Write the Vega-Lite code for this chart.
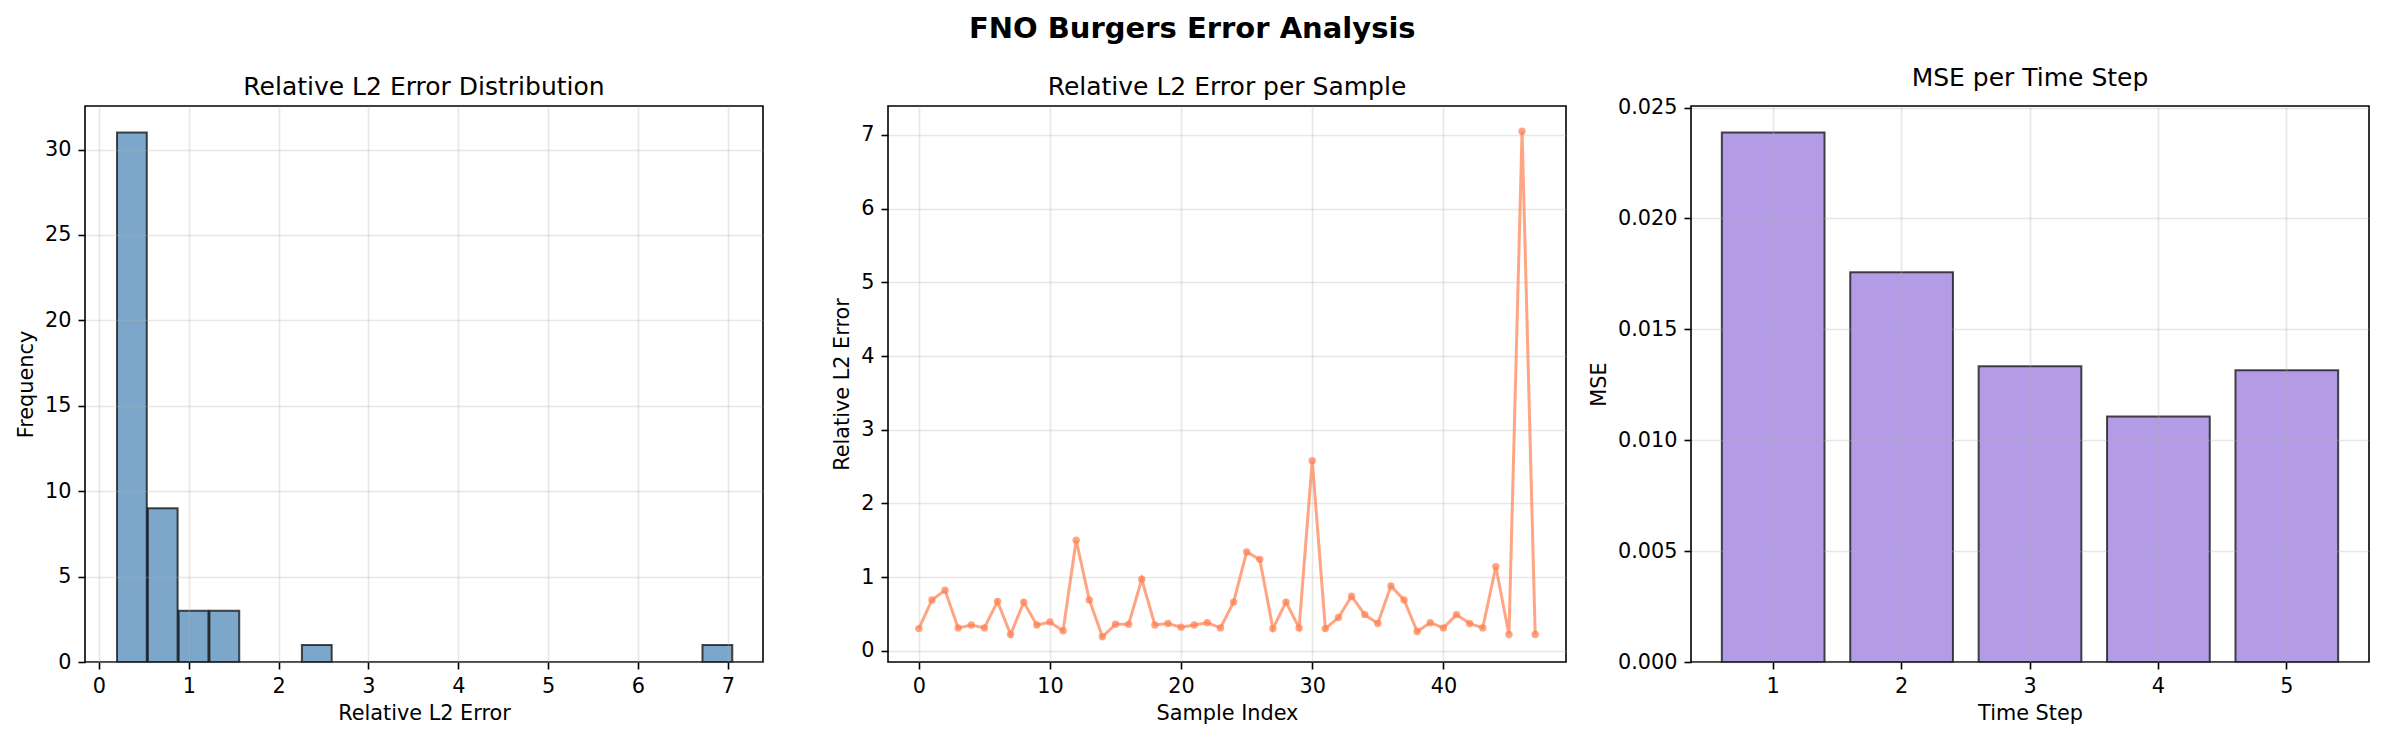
{
  "$schema": "https://vega.github.io/schema/vega-lite/v6.json",
  "padding": {"left": 14, "top": 14, "right": 5, "bottom": 5},
  "background": "white",
  "title": {"text": "FNO Burgers Error Analysis", "fontSize": 29, "fontWeight": "bold", "anchor": "middle", "offset": 21, "font": "DejaVu Sans", "color": "black"},
  "datasets": {
    "samples": [
      {"idx": 0, "err": 0.30}, {"idx": 1, "err": 0.69}, {"idx": 2, "err": 0.82}, {"idx": 3, "err": 0.31},
      {"idx": 4, "err": 0.35}, {"idx": 5, "err": 0.31}, {"idx": 6, "err": 0.67}, {"idx": 7, "err": 0.22},
      {"idx": 8, "err": 0.66}, {"idx": 9, "err": 0.35}, {"idx": 10, "err": 0.39}, {"idx": 11, "err": 0.27},
      {"idx": 12, "err": 1.50}, {"idx": 13, "err": 0.69}, {"idx": 14, "err": 0.19}, {"idx": 15, "err": 0.36},
      {"idx": 16, "err": 0.36}, {"idx": 17, "err": 0.97}, {"idx": 18, "err": 0.35}, {"idx": 19, "err": 0.37},
      {"idx": 20, "err": 0.32}, {"idx": 21, "err": 0.35}, {"idx": 22, "err": 0.38}, {"idx": 23, "err": 0.31},
      {"idx": 24, "err": 0.66}, {"idx": 25, "err": 1.34}, {"idx": 26, "err": 1.24}, {"idx": 27, "err": 0.30},
      {"idx": 28, "err": 0.66}, {"idx": 29, "err": 0.31}, {"idx": 30, "err": 2.58}, {"idx": 31, "err": 0.30},
      {"idx": 32, "err": 0.45}, {"idx": 33, "err": 0.74}, {"idx": 34, "err": 0.49}, {"idx": 35, "err": 0.37},
      {"idx": 36, "err": 0.88}, {"idx": 37, "err": 0.69}, {"idx": 38, "err": 0.26}, {"idx": 39, "err": 0.38},
      {"idx": 40, "err": 0.31}, {"idx": 41, "err": 0.49}, {"idx": 42, "err": 0.37}, {"idx": 43, "err": 0.31},
      {"idx": 44, "err": 1.14}, {"idx": 45, "err": 0.22}, {"idx": 46, "err": 7.05}, {"idx": 47, "err": 0.22}
    ],
    "mse": [
      {"step": 1, "mse": 0.02388}, {"step": 2, "mse": 0.01757}, {"step": 3, "mse": 0.01333},
      {"step": 4, "mse": 0.01107}, {"step": 5, "mse": 0.01316}
    ]
  },
  "hconcat": [
    {
      "title": "Relative L2 Error Distribution",
      "width": 678, "height": 556,
      "data": {"name": "samples"},
      "mark": {"type": "bar", "fill": "steelblue", "fillOpacity": 0.7, "stroke": "black", "strokeOpacity": 0.7, "strokeWidth": 2},
      "encoding": {
        "x": {"field": "err", "type": "quantitative", "bin": {"extent": [0.19, 7.05], "step": 0.343, "nice": false},
              "scale": {"domain": [-0.155, 7.392], "nice": false, "zero": false},
              "axis": {"title": "Relative L2 Error", "values": [0, 1, 2, 3, 4, 5, 6, 7], "format": "d", "zindex": 1}},
        "y": {"aggregate": "count", "type": "quantitative",
              "scale": {"domain": [0, 32.55], "nice": false},
              "axis": {"title": "Frequency", "values": [0, 5, 10, 15, 20, 25, 30], "format": "d", "zindex": 1}}
      }
    },
    {
      "title": "Relative L2 Error per Sample",
      "width": 678, "height": 556,
      "data": {"name": "samples"},
      "encoding": {
        "x": {"field": "idx", "type": "quantitative",
              "scale": {"domain": [-2.35, 49.35], "nice": false, "zero": false},
              "axis": {"title": "Sample Index", "values": [0, 10, 20, 30, 40], "format": "d"}},
        "y": {"field": "err", "type": "quantitative",
              "scale": {"domain": [-0.153, 7.393], "nice": false, "zero": false},
              "axis": {"title": "Relative L2 Error", "values": [0, 1, 2, 3, 4, 5, 6, 7], "format": "d"}}
      },
      "layer": [
        {"mark": {"type": "line", "color": "coral", "opacity": 0.7, "strokeWidth": 3}},
        {"mark": {"type": "point", "filled": true, "color": "coral", "opacity": 0.7, "size": 55}}
      ]
    },
    {
      "title": "MSE per Time Step",
      "width": 678, "height": 556,
      "data": {"name": "mse"},
      "mark": {"type": "bar", "fill": "mediumpurple", "fillOpacity": 0.7, "stroke": "black", "strokeOpacity": 0.7, "strokeWidth": 2},
      "encoding": {
        "x": {"field": "step", "type": "ordinal",
              "scale": {"type": "band", "paddingInner": 0.2, "paddingOuter": 0.24},
              "axis": {"title": "Time Step", "labelAngle": 0, "bandPosition": 0.5, "zindex": 1}},
        "y": {"field": "mse", "type": "quantitative",
              "scale": {"domain": [0, 0.02507], "nice": false},
              "axis": {"title": "MSE", "values": [0, 0.005, 0.01, 0.015, 0.02, 0.025], "format": ".3f", "zindex": 1}}
      }
    }
  ],
  "spacing": 125,
  "bounds": "flush",
  "config": {
    "font": "DejaVu Sans",
    "view": {"stroke": "black", "strokeWidth": 1.6},
    "title": {"fontSize": 25, "fontWeight": "normal", "offset": 6, "color": "black", "font": "DejaVu Sans"},
    "axis": {
      "domain": false,
      "tickColor": "black", "tickSize": 7, "tickWidth": 1.6,
      "labelFont": "DejaVu Sans", "labelFontSize": 20.8, "labelColor": "black", "labelPadding": 7,
      "titleFont": "DejaVu Sans", "titleFontSize": 20.8, "titleFontWeight": "normal", "titleColor": "black", "titlePadding": 8,
      "grid": true, "gridColor": "#b0b0b0", "gridOpacity": 0.3, "gridWidth": 1.6
    }
  }
}
